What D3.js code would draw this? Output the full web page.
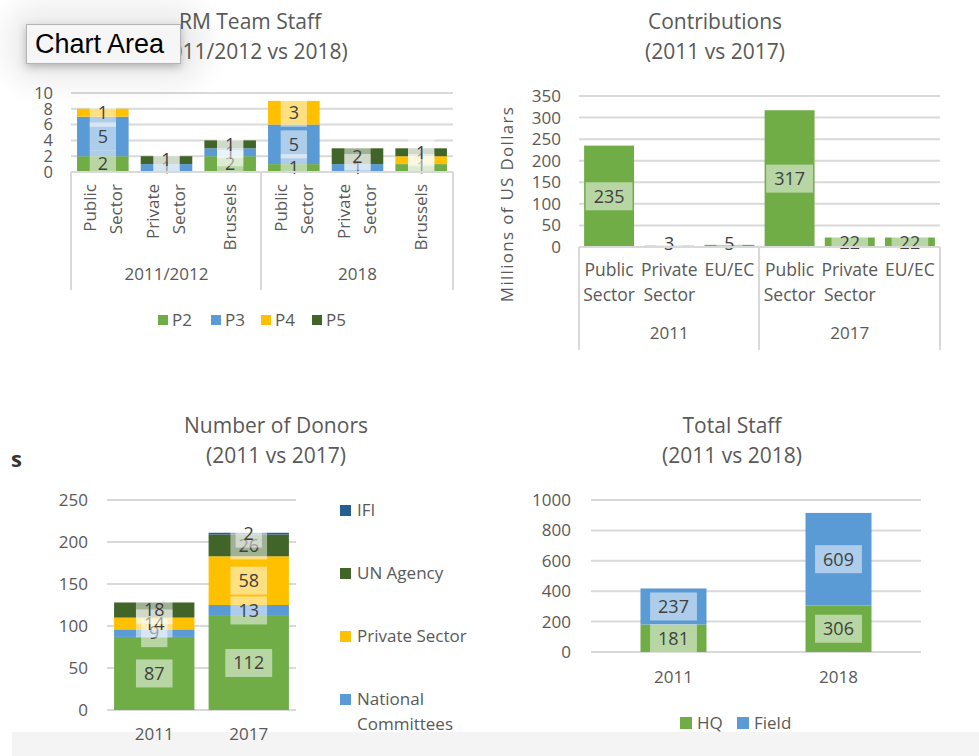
<!DOCTYPE html>
<html>
<head>
<meta charset="utf-8">
<script src="https://cdn.jsdelivr.net/npm/d3@7"></script>
<style>
  body { margin: 0; background: #fff; }
  svg text { font-family: "Open Sans", Lato, sans-serif; fill: #595959; }
</style>
</head>
<body>
<svg id="page" width="979" height="756"></svg>
<script>
// ---- data ----
// RM team staff (stacked, two-level categories)
const staffCats = ["Public Sector", "Private Sector", "Brussels", "Public Sector", "Private Sector", "Brussels"];
const staffGroups = ["2011/2012", "2018"];
const staffKeys = ["P2", "P3", "P4", "P5"];
const staffP2 = [2, 0, 2, 1, 0, 1];
const staffP3 = [5, 1, 1, 5, 1, 0];
const staffP4 = [1, 0, 0, 3, 0, 1];
const staffP5 = [0, 1, 1, 0, 2, 1];
const staffTicks = [0, 2, 4, 6, 8, 10];

// contributions
const contribCats = ["Public Sector", "Private Sector", "EU/EC", "Public Sector", "Private Sector", "EU/EC"];
const contribGroups = ["2011", "2017"];
const contribValues = [235, 3, 5, 317, 22, 22];
const contribTicks = [0, 50, 100, 150, 200, 250, 300, 350];

// number of donors (green series has no visible legend entry)
const donorYears = ["2011", "2017"];
const donorKeys = ["Governments", "National Committees", "Private Sector", "UN Agency", "IFI"];
const donorGov = [87, 112];
const donorNatCom = [9, 13];
const donorPrivate = [14, 58];
const donorUN = [18, 26];
const donorIFI = [0, 2];
const donorLegend = ["IFI", "UN Agency", "Private Sector", "National Committees"];
const donorTicks = [0, 50, 100, 150, 200, 250];

// total staff
const totalYears = ["2011", "2018"];
const totalKeys = ["HQ", "Field"];
const totalHQ = [181, 306];
const totalField = [237, 609];
const totalTicks = [0, 200, 400, 600, 800, 1000];

// ---- colours ----
const green = "#70ad47", blue = "#5b9bd5", yellow = "#ffc000", dkgreen = "#416528", navy = "#255e91";
const grid = "#d9d9d9";

const svg = d3.select("#page");

// light band at the bottom of the screenshot
svg.append("rect").attr("x", 12).attr("y", 732).attr("width", 967).attr("height", 24).attr("fill", "#f4f4f4");

const defs = svg.append("defs");
defs.append("filter").attr("id", "soft").attr("x", "-50%").attr("y", "-50%").attr("width", "200%").attr("height", "200%")
  .append("feGaussianBlur").attr("stdDeviation", 14);
defs.append("filter").attr("id", "shadow").attr("x", "-20%").attr("y", "-40%").attr("width", "140%").attr("height", "200%")
  .append("feDropShadow").attr("dx", 0).attr("dy", 3).attr("stdDeviation", 4).attr("flood-color", "#000").attr("flood-opacity", 0.25);

function title(cx, y0, lines) {
  lines.forEach((t, i) => {
    svg.append("text").attr("x", cx).attr("y", y0 + i * 30).attr("dy", "0.35em")
      .attr("text-anchor", "middle").attr("font-size", 21).text(t);
  });
}

function yAxis(scale, ticks, x0, x1, labelX, size) {
  const g = svg.append("g").attr("transform", `translate(${labelX},0)`)
    .call(d3.axisLeft(scale).tickValues(ticks).tickSize(0).tickPadding(0).tickFormat(d3.format("d")));
  g.select(".domain").remove();
  g.selectAll("text").attr("font-size", size).attr("font-family", null).attr("fill", "#595959");
  svg.append("g").selectAll("line").data(ticks).join("line")
    .attr("x1", x0).attr("x2", x1)
    .attr("y1", d => scale(d)).attr("y2", d => scale(d))
    .attr("stroke", grid).attr("stroke-width", 2);
}

// value label with the semi-transparent box behind it
function valueLabel(cx, cy, value, size) {
  const g = svg.append("g");
  const box = g.append("rect");
  const t = g.append("text").attr("x", cx).attr("y", cy).attr("dy", "0.35em")
    .attr("text-anchor", "middle").attr("font-size", size).style("fill", "#404040").text(value);
  const w = t.node().getComputedTextLength() + 16;
  box.attr("x", cx - w / 2).attr("y", cy - 14).attr("width", w).attr("height", 28)
    .attr("fill", "#fff").attr("fill-opacity", 0.5);
}

function stackBars(x, y, rows, keys, colors, size) {
  const series = d3.stack().keys(keys)(rows);
  series.forEach((s, k) => {
    svg.append("g").attr("fill", colors[k]).selectAll("rect").data(s).join("rect")
      .attr("x", (d, i) => x(i)).attr("width", x.bandwidth())
      .attr("y", d => y(d[1])).attr("height", d => y(d[0]) - y(d[1]));
  });
  series.forEach(s => s.forEach((d, i) => {
    const v = d[1] - d[0];
    if (v > 0) valueLabel(x(i) + x.bandwidth() / 2, (y(d[0]) + y(d[1])) / 2, v, size);
  }));
}

// ---------- chart 1: RM Team Staff ----------
title(250, 22, ["RM Team Staff", "(2011/2012 vs 2018)"]);
const x1 = d3.scaleBand().domain(d3.range(staffCats.length)).range([71, 453]).paddingInner(0.19).paddingOuter(0.095);
const y1 = d3.scaleLinear().domain([0, 10]).range([172, 93]);
yAxis(y1, staffTicks, 71, 453, 53, 16.5);
const staffRows = staffCats.map((c, i) => ({ P2: staffP2[i], P3: staffP3[i], P4: staffP4[i], P5: staffP5[i] }));
stackBars(x1, y1, staffRows, staffKeys, [green, blue, yellow, dkgreen], 18);

// two-level category axis
[71, 261, 453].forEach(xx => svg.append("line").attr("x1", xx).attr("x2", xx).attr("y1", 172).attr("y2", 290).attr("stroke", grid).attr("stroke-width", 2));
svg.append("line").attr("x1", 71).attr("x2", 453).attr("y1", 172).attr("y2", 172).attr("stroke", grid).attr("stroke-width", 2);
staffCats.forEach((c, i) => {
  const words = c.split(" ");
  const cx = x1(i) + x1.bandwidth() / 2;
  words.forEach((w, j) => {
    const off = words.length === 1 ? 0 : (j === 0 ? -13 : 13);
    svg.append("text").attr("transform", `translate(${cx + off},184) rotate(-90)`)
      .attr("dy", "0.35em").attr("text-anchor", "end").attr("font-size", 17).text(w);
  });
});
staffGroups.forEach((gname, gi) => {
  const cx = (x1(gi * 3) + x1(gi * 3 + 2) + x1.bandwidth()) / 2;
  svg.append("text").attr("x", cx).attr("y", 274).attr("dy", "0.35em").attr("text-anchor", "middle").attr("font-size", 17).text(gname);
});
staffKeys.forEach((k, i) => {
  const lx = [158, 211, 261, 312][i];
  svg.append("rect").attr("x", lx).attr("y", 315).attr("width", 10).attr("height", 10).attr("fill", [green, blue, yellow, dkgreen][i]);
  svg.append("text").attr("x", lx + 14).attr("y", 320).attr("dy", "0.35em").attr("font-size", 17).text(k);
});

// ---------- chart 2: Contributions ----------
title(715, 22, ["Contributions", "(2011 vs 2017)"]);
const x2 = d3.scaleBand().domain(d3.range(contribCats.length)).range([579, 940]).paddingInner(0.17).paddingOuter(0.085);
const y2 = d3.scaleLinear().domain([0, 350]).range([247, 96]);
yAxis(y2, contribTicks, 579, 940, 561, 17);
svg.append("g").attr("fill", green).selectAll("rect").data(contribValues).join("rect")
  .attr("x", (d, i) => x2(i)).attr("width", x2.bandwidth())
  .attr("y", d => y2(d)).attr("height", d => y2(0) - y2(d));
contribValues.forEach((v, i) => valueLabel(x2(i) + x2.bandwidth() / 2, Math.min((y2(0) + y2(v)) / 2, 244), v, 18));
[579, 759, 940].forEach(xx => svg.append("line").attr("x1", xx).attr("x2", xx).attr("y1", 247).attr("y2", 350).attr("stroke", grid).attr("stroke-width", 2));
svg.append("line").attr("x1", 579).attr("x2", 940).attr("y1", 247).attr("y2", 247).attr("stroke", grid).attr("stroke-width", 2);
contribCats.forEach((c, i) => {
  const cx = x2(i) + x2.bandwidth() / 2;
  c.split(" ").forEach((w, j) => {
    svg.append("text").attr("x", cx).attr("y", 270 + j * 25).attr("dy", "0.35em").attr("text-anchor", "middle").attr("font-size", 17.5).text(w);
  });
});
contribGroups.forEach((gname, gi) => {
  const cx = (x2(gi * 3) + x2(gi * 3 + 2) + x2.bandwidth()) / 2;
  svg.append("text").attr("x", cx).attr("y", 333).attr("dy", "0.35em").attr("text-anchor", "middle").attr("font-size", 17).text(gname);
});
svg.append("text").attr("transform", "translate(507,204) rotate(-90)").attr("dy", "0.35em")
  .attr("text-anchor", "middle").attr("font-size", 17).attr("letter-spacing", 1.3).text("Millions of US Dollars");

// ---------- chart 3: Number of Donors ----------
svg.append("text").attr("x", 11).attr("y", 459).attr("dy", "0.35em").attr("font-size", 22).attr("font-weight", "bold").style("fill", "#333").text("s");
title(276, 426, ["Number of Donors", "(2011 vs 2017)"]);
const x3 = d3.scaleBand().domain(d3.range(donorYears.length)).range([107, 296]).paddingInner(0.15).paddingOuter(0.075);
const y3 = d3.scaleLinear().domain([0, 250]).range([710, 500]);
yAxis(y3, donorTicks, 107, 296, 88, 17);
const donorRows = donorYears.map((yr, i) => ({
  "Governments": donorGov[i], "National Committees": donorNatCom[i], "Private Sector": donorPrivate[i], "UN Agency": donorUN[i], "IFI": donorIFI[i]
}));
stackBars(x3, y3, donorRows, donorKeys, [green, blue, yellow, dkgreen, navy], 18);
donorYears.forEach((yr, i) => svg.append("text").attr("x", x3(i) + x3.bandwidth() / 2).attr("y", 734).attr("dy", "0.35em")
  .attr("text-anchor", "middle").attr("font-size", 17).text(yr));
const legColor = { "IFI": navy, "UN Agency": dkgreen, "Private Sector": yellow, "National Committees": blue };
donorLegend.forEach((k, i) => {
  const ly = 510 + i * 63;
  svg.append("rect").attr("x", 340).attr("y", ly - 5).attr("width", 11).attr("height", 11).attr("fill", legColor[k]);
  const words = k === "National Committees" ? ["National", "Committees"] : [k];
  words.forEach((w, j) => svg.append("text").attr("x", 357).attr("y", ly + j * 25).attr("dy", "0.35em").attr("font-size", 17).text(w));
});

// ---------- chart 4: Total Staff ----------
title(732, 426, ["Total Staff", "(2011 vs 2018)"]);
const x4 = d3.scaleBand().domain(d3.range(totalYears.length)).range([591, 921]).paddingInner(0.6).paddingOuter(0.3);
const y4 = d3.scaleLinear().domain([0, 1000]).range([652, 500]);
yAxis(y4, totalTicks, 591, 921, 571, 17);
const totalRows = totalYears.map((yr, i) => ({ HQ: totalHQ[i], Field: totalField[i] }));
stackBars(x4, y4, totalRows, totalKeys, [green, blue], 18);
totalYears.forEach((yr, i) => svg.append("text").attr("x", x4(i) + x4.bandwidth() / 2).attr("y", 677).attr("dy", "0.35em")
  .attr("text-anchor", "middle").attr("font-size", 17).text(yr));
totalKeys.forEach((k, i) => {
  const lx = [680, 737][i];
  svg.append("rect").attr("x", lx).attr("y", 717).attr("width", 12).attr("height", 12).attr("fill", [green, blue][i]);
  svg.append("text").attr("x", lx + 17).attr("y", 723).attr("dy", "0.35em").attr("font-size", 17).text(k);
});

// ---------- "Chart Area" tooltip over the first chart ----------
svg.append("rect").attr("x", 6).attr("y", 4).attr("width", 200).attr("height", 80).attr("rx", 30)
  .attr("fill", "#000").attr("opacity", 0.07).attr("filter", "url(#soft)");
svg.append("rect").attr("x", 26.5).attr("y", 24.5).attr("width", 154).attr("height", 39)
  .attr("fill", "#f6f6f6").attr("stroke", "#b4b4b4").attr("filter", "url(#shadow)");
svg.append("text").attr("x", 35).attr("y", 44).attr("dy", "0.35em").attr("font-size", 27)
  .style("font-family", "'Liberation Sans', Arial, sans-serif").style("fill", "#000").text("Chart Area");
</script>
</body>
</html>
